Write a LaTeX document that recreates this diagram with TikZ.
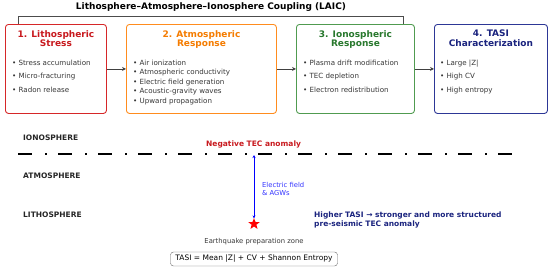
\documentclass[tikz,border=0pt]{standalone}
\usepackage{fontspec}
\setmainfont{DejaVu Sans}
\usepackage{tikz}
\usetikzlibrary{
	arrows.meta, shapes.geometric, positioning, calc
}
\definecolor{lithoborder}{RGB}{214, 39, 40}
\definecolor{lithotext}  {RGB}{200, 25, 30}
\definecolor{atmoborder} {RGB}{255, 140, 30}
\definecolor{atmotext}   {RGB}{245, 124, 0}
\definecolor{ionoborder} {RGB}{80, 155, 80}
\definecolor{ionotext}   {RGB}{40, 120, 45}
\definecolor{tasiborder} {RGB}{45, 55, 150}
\definecolor{tasitext}   {RGB}{26, 35, 126}
\definecolor{bodygray}   {RGB}{55, 55, 55}

\tikzset{
	stagebox/.style={draw=#1, line width=0.9pt, rounded corners=3pt, fill=white,
		minimum height=89pt, inner sep=0pt, anchor=north west},
	stagetitle/.style={text=#1, font=\bfseries\fontsize{9}{9.5}\selectfont, align=center, inner sep=0pt},
	itemlist/.style={font=\fontsize{7.1}{#1}\selectfont, text=bodygray, align=left, anchor=north west, inner sep=0pt},
	layername/.style={font=\bfseries\fontsize{7.5}{8}\selectfont, text=black!85, anchor=west, inner sep=0pt},
	flow/.style={-{Stealth[length=4pt,width=4pt]}, line width=0.8pt, black!75}
}

\begin{document}
\begin{tikzpicture}[x=1pt, y=-1pt]
	\useasboundingbox (0,0) rectangle (550,269);
	% title and bracket
	\node[font=\bfseries\fontsize{9}{10}\selectfont, inner sep=0pt] (title) at (211,7) {Lithosphere–Atmosphere–Ionosphere Coupling (LAIC)};
	\coordinate (brL) at (18,24);
	\coordinate (brR) at (403,24);
	\draw[line width=0.8pt, black!70] (brL) -- ++(0,-8) -| (brR);

	% the four stages
	\node[stagebox=lithoborder, minimum width=101pt] (litho) at (5,24) {};
	\node[stagebox=atmoborder, minimum width=150pt] (atmo) at (126,24) {};
	\node[stagebox=ionoborder, minimum width=118pt] (iono) at (296,24) {};
	\node[stagebox=tasiborder, minimum width=113pt] (tasi) at (434,24) {};

	\node[stagetitle=lithotext, below=6pt of litho.north] (lithoT) {1. Lithospheric\\Stress};
	\node[stagetitle=atmotext, below=6pt of atmo.north] (atmoT) {2. Atmospheric\\Response};
	\node[stagetitle=ionotext, below=6pt of iono.north] (ionoT) {3. Ionospheric\\Response};
	\node[stagetitle=tasitext, below=6pt of tasi.north] (tasiT) {4. TASI\\Characterization};

	\node[itemlist=13.5] (lithoL) at (12,59.5) {• Stress accumulation\\• Micro-fracturing\\• Radon release};
	\node[itemlist=9.6] (atmoL) at (133,59.5) {• Air ionization\\• Atmospheric conductivity\\• Electric field generation\\• Acoustic-gravity waves\\• Upward propagation};
	\node[itemlist=13.5] (ionoL) at (303,59.5) {• Plasma drift modification\\• TEC depletion\\• Electron redistribution};
	\node[itemlist=13.5] (tasiL) at (440,59.5) {• Large |Z|\\• High CV\\• High entropy};

	\draw[flow] (litho) -- (atmo);
	\draw[flow] (atmo) -- (iono);
	\draw[flow] (iono) -- (tasi);

	% layers
	\node[layername] (ionoLayer) at (23,138) {IONOSPHERE};
	\node[layername] (atmoLayer) at (23,176) {ATMOSPHERE};
	\node[layername] (lithoLayer) at (23,215) {LITHOSPHERE};
	\coordinate (bndL) at (18,154);
	\coordinate (bndR) at (513,154);
	\draw[line width=1.8pt, dash pattern=on 14pt off 13pt on 2pt off 11pt] (bndL) -- (bndR);

	% epicentre and coupling channel
	\node[star, star points=5, star point ratio=2.4, fill=red, minimum size=12pt, inner sep=0pt] (quake) at (254,224) {};
	\coordinate (tecpt) at (254,155);
	\draw[{Stealth[length=3pt,width=3pt]}-{Stealth[length=3pt,width=3pt]}, line width=1pt, blue] ([yshift=-1pt]quake.north) -- (tecpt);
	\node[font=\bfseries\fontsize{7.5}{8}\selectfont, text=lithotext, anchor=west, inner sep=0pt] (tecNote) at (206,144) {Negative TEC anomaly};
	\node[font=\fontsize{6.8}{8}\selectfont, text=blue!80, align=left, anchor=west, inner sep=0pt] (fieldNote) at (262,189) {Electric field\\\& AGWs};
	\node[font=\bfseries\fontsize{7.5}{9}\selectfont, text=tasitext, align=left, anchor=west, inner sep=0pt] (tasiNote) at (314,219.5) {Higher TASI → stronger and more structured\\pre-seismic TEC anomaly};
	\node[font=\fontsize{6.8}{8}\selectfont, text=bodygray, inner sep=0pt] (zoneNote) at (254,242) {Earthquake preparation zone};
	\node[draw=black!60, rounded corners=3pt, fill=white, font=\fontsize{7.5}{8}\selectfont, minimum width=167pt, minimum height=14pt, inner sep=1pt] (formula) at (254,259) {TASI = Mean |Z| + CV + Shannon Entropy};
\end{tikzpicture}
\end{document}
